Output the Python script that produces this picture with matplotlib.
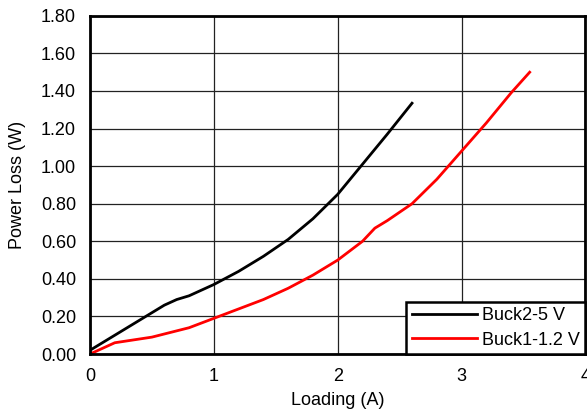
import matplotlib
matplotlib.use('Agg')
import numpy as np
from matplotlib import pyplot as plt

plt.rcParams['font.family'] = ['Liberation Sans', 'DejaVu Sans']

# Buck2-5 V
x_buck2 = [0, 0.1, 0.2, 0.3, 0.4, 0.5, 0.6, 0.7, 0.8, 1.0, 1.2, 1.4, 1.6, 1.8, 2.0, 2.2, 2.4, 2.6]
y_buck2 = [0.02, 0.06, 0.10, 0.14, 0.18, 0.22, 0.26, 0.29, 0.31, 0.37, 0.44, 0.52, 0.61, 0.72, 0.85, 1.01, 1.17, 1.335]

# Buck1-1.2 V
x_buck1 = [0, 0.2, 0.5, 0.8, 1.0, 1.2, 1.4, 1.6, 1.8, 2.0, 2.2, 2.3, 2.4, 2.6, 2.8, 3.0, 3.2, 3.4, 3.55]
y_buck1 = [0.0, 0.06, 0.09, 0.14, 0.19, 0.24, 0.29, 0.35, 0.42, 0.50, 0.60, 0.67, 0.71, 0.80, 0.93, 1.08, 1.23, 1.39, 1.50]

x_ticks = [0, 1, 2, 3, 4]
y_ticks = np.arange(0, 1.81, 0.2)

fig = plt.figure(figsize=(5.87, 4.17), dpi=100)
ax = fig.add_axes([0.1533, 0.151, 0.844, 0.811])

ax.plot(x_buck2, y_buck2, color='black', lw=2, label='Buck2-5 V')
ax.plot(x_buck1, y_buck1, color='#ff0000', lw=2, label='Buck1-1.2 V')

ax.set_xlim(0, 4)
ax.set_ylim(0, 1.8)
ax.set_xticks(x_ticks)
ax.set_yticks(y_ticks)
ax.set_yticklabels([f'{v:.2f}' for v in y_ticks])
ax.tick_params(length=0, labelsize=13, pad=10)
ax.grid(True, color='#222222', lw=0.9)
ax.set_axisbelow(True)
for s in ax.spines.values():
    s.set_linewidth(2)

ax.set_xlabel('Loading (A)', fontsize=13, labelpad=5)
ax.set_ylabel('Power Loss (W)', fontsize=13, labelpad=11)

leg = ax.legend(loc='lower right', fontsize=13, frameon=True, fancybox=False,
                borderaxespad=0, handlelength=3.6, handletextpad=0.3,
                edgecolor='black', framealpha=1, borderpad=0.3, labelspacing=0.4)
leg.get_frame().set_linewidth(1.8)

fig.savefig('out.png', dpi=100)
